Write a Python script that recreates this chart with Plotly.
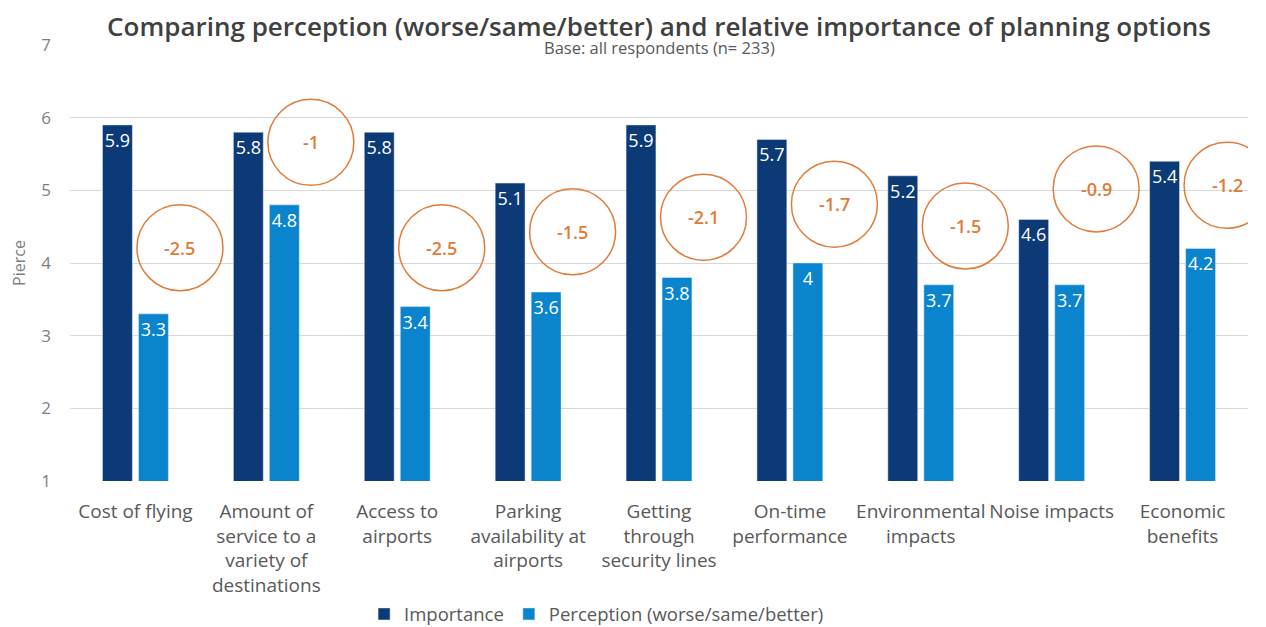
import plotly.graph_objects as go

categories = ["Cost of flying", "Amount of<br>service to a<br>variety of<br>destinations",
              "Access to<br>airports", "Parking<br>availability at<br>airports",
              "Getting<br>through<br>security lines", "On-time<br>performance",
              "Environmental<br>impacts", "Noise impacts", "Economic<br>benefits"]
importance = [5.9, 5.8, 5.8, 5.1, 5.9, 5.7, 5.2, 4.6, 5.4]
perception = [3.3, 4.8, 3.4, 3.6, 3.8, 4.0, 3.7, 3.7, 4.2]
gap_labels = ["-2.5", "-1", "-2.5", "-1.5", "-2.1", "-1.7", "-1.5", "-0.9", "-1.2"]

# placement of the orange circled gap labels (layout, not data)
circle_y = [4.21, 5.66, 4.21, 4.43, 4.63, 4.81, 4.51, 5.02, 5.07]
circle_dx = 0.34
circle_r = 43

FONT = "Open Sans"
NAVY = "#0B3A76"
BLUE = "#0A84CC"
ORANGE = "#E07C3A"
GRAY = "#595959"

xs = list(range(len(categories)))

fig = go.Figure()
fig.add_trace(go.Bar(
    x=xs, y=importance, name="Importance", marker_color=NAVY,
    text=[f"{v:g}" for v in importance], textposition="inside", textangle=0,
    insidetextanchor="end", textfont=dict(color="white", size=18, family=FONT),
))
fig.add_trace(go.Bar(
    x=xs, y=perception, name="Perception (worse/same/better)", marker_color=BLUE,
    text=[f"{v:g}" for v in perception], textposition="inside", textangle=0,
    insidetextanchor="end", textfont=dict(color="white", size=18, family=FONT),
))

for i, (lab, cy) in enumerate(zip(gap_labels, circle_y)):
    fig.add_shape(type="circle", xref="x", yref="y",
                  xsizemode="pixel", ysizemode="pixel",
                  xanchor=i + circle_dx, yanchor=cy,
                  x0=-circle_r, x1=circle_r, y0=-circle_r, y1=circle_r,
                  line=dict(color=ORANGE, width=1.5), layer="above")
    fig.add_annotation(x=i + circle_dx, y=cy, xref="x", yref="y", text=lab,
                       showarrow=False,
                       font=dict(color=ORANGE, size=18, family=FONT, weight=600))

fig.add_annotation(x=0.5, y=1.0, xref="paper", yref="paper", yanchor="middle",
                   yshift=-2,
                   text="Base: all respondents (n= 233)", showarrow=False,
                   font=dict(size=16.5, color=GRAY, family=FONT))

fig.update_layout(
    width=1258, height=619,
    margin=dict(l=62, r=18, t=37, b=146, autoexpand=False),
    paper_bgcolor="white", plot_bgcolor="white",
    barmode="group", bargap=0.45, bargroupgap=0.17,
    title=dict(text="Comparing perception (worse/same/better) and relative importance of planning options",
               x=0.5, xref="paper", xanchor="center", y=0.969, yanchor="middle",
               font=dict(size=26, color="#404040", family=FONT, weight=600)),
    font=dict(family=FONT, color=GRAY),
    legend=dict(orientation="h", x=0.447, xanchor="center", y=-0.306, yanchor="middle",
                font=dict(size=18.5, color=GRAY, family=FONT), traceorder="normal"),
    uniformtext=dict(minsize=18, mode="show"),
)
fig.update_xaxes(tickmode="array", tickvals=xs, ticktext=categories,
                 tickfont=dict(size=19, color=GRAY, family=FONT),
                 showgrid=False, showline=False, zeroline=False, ticks="",
                 ticklabelstandoff=17, automargin=False,
                 range=[-0.5, len(categories) - 0.5])
fig.update_yaxes(range=[1, 7], dtick=1, showgrid=True, gridcolor="#D9D9D9",
                 gridwidth=1, zeroline=False, showline=False, ticks="",
                 tickfont=dict(size=17, color="#7F7F7F", family=FONT),
                 ticklabelstandoff=18, automargin=False,
                 title=dict(text="Pierce", font=dict(size=16, color="#7F7F7F", family=FONT),
                            standoff=14))

fig.write_html("out.html")
